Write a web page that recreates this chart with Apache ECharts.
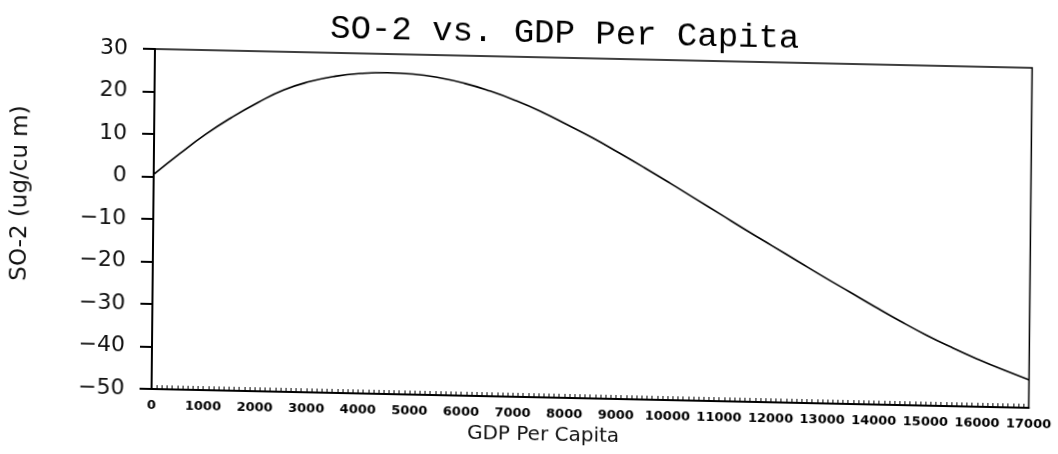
<!DOCTYPE html>
<html>
<head>
<meta charset="utf-8">
<script src="https://cdn.jsdelivr.net/npm/echarts@6/dist/echarts.min.js"></script>
<style>
  html, body { margin: 0; padding: 0; background: #fff; }
  /* the printed sheet sits slightly askew on the scanner bed */
  #chart {
    width: 1058px; height: 454px;
    transform-origin: 155px 49px;
    transform: matrix(1, 0.0215, -0.01, 1, 0, 0);
  }
</style>
</head>
<body>
<div id="chart"></div>
<script>
// GDP per capita sample points (x) and fitted SO-2 concentration (y)
const gdp = [0, 500, 1000, 1500, 2000, 2500, 3000, 3500, 4000, 4500, 5000, 5500,
  6000, 6500, 7000, 7500, 8000, 8500, 9000, 9500, 10000, 10500, 11000, 11500,
  12000, 12500, 13000, 13500, 14000, 14500, 15000, 15500, 16000, 16500, 17000];
const so2 = [0.5, 5.5, 10.2, 14.3, 17.9, 21.0, 23.1, 24.5, 25.3, 25.6, 25.4, 24.7,
  23.5, 21.8, 19.7, 17.2, 14.3, 11.3, 8.0, 4.6, 1.1, -2.5, -6.1, -9.7,
  -13.2, -16.7, -20.2, -23.6, -27.0, -30.3, -33.4, -36.2, -38.8, -41.2, -43.4];

// axis ranges and tick steps
const xRange = [0, 17000];
const xStep = 1000;
const yRange = [-50, 30];
const yStep = 10;

const titleText = 'SO-2 vs. GDP Per Capita';
const xName = 'GDP Per Capita';
const yName = 'SO-2 (ug/cu m)';

const chart = echarts.init(document.getElementById('chart'), null, { renderer: 'canvas' });

chart.setOption({
  backgroundColor: '#fff',
  animation: false,
  title: {
    text: titleText,
    left: 325,
    top: 3,
    textStyle: {
      fontFamily: 'Liberation Mono',
      fontSize: 34,
      fontWeight: 'normal',
      color: '#000'
    }
  },
  grid: {
    left: 155, top: 49, right: 20, bottom: 65,
    show: true,
    borderColor: '#000',
    borderWidth: 1.5,
    backgroundColor: 'transparent'
  },
  xAxis: {
    type: 'value',
    min: xRange[0], max: xRange[1], interval: xStep,
    axisLine: { show: true, onZero: false, lineStyle: { color: '#000', width: 2 } },
    axisTick: { show: true, inside: true, length: 4, lineStyle: { color: '#000', width: 1 } },
    minorTick: { show: true, splitNumber: 10, length: 4, lineStyle: { color: '#000', width: 1 } },
    splitLine: { show: false },
    axisLabel: {
      margin: 10,
      fontFamily: 'DejaVu Sans',
      fontSize: 13,
      fontWeight: 'bold',
      color: '#000',
      formatter: v => String(v)
    }
  },
  yAxis: {
    type: 'value',
    min: yRange[0], max: yRange[1], interval: yStep,
    axisLine: { show: true, onZero: false, lineStyle: { color: '#000', width: 2 } },
    axisTick: { show: true, inside: false, length: 12, lineStyle: { color: '#000', width: 2 } },
    splitLine: { show: false },
    axisLabel: {
      margin: 27,
      fontFamily: 'DejaVu Sans',
      fontSize: 22,
      color: '#111',
      formatter: v => (v < 0 ? '\u2212' + Math.abs(v) : String(v))
    }
  },
  graphic: [
    {
      type: 'text',
      x: 547, y: 427,
      style: {
        text: xName,
        fontFamily: 'DejaVu Sans',
        fontSize: 20,
        fill: '#111',
        textAlign: 'center',
        textVerticalAlign: 'middle'
      }
    },
    {
      type: 'text',
      x: 22, y: 196,
      rotation: Math.PI / 2,
      style: {
        text: yName,
        fontFamily: 'DejaVu Sans',
        fontSize: 23,
        fill: '#111',
        textAlign: 'center',
        textVerticalAlign: 'middle'
      }
    }
  ],
  series: [{
    type: 'line',
    data: gdp.map((g, i) => [g, so2[i]]),
    smooth: true,
    symbol: 'none',
    lineStyle: { color: '#000', width: 1.6 }
  }]
});
</script>
</body>
</html>
